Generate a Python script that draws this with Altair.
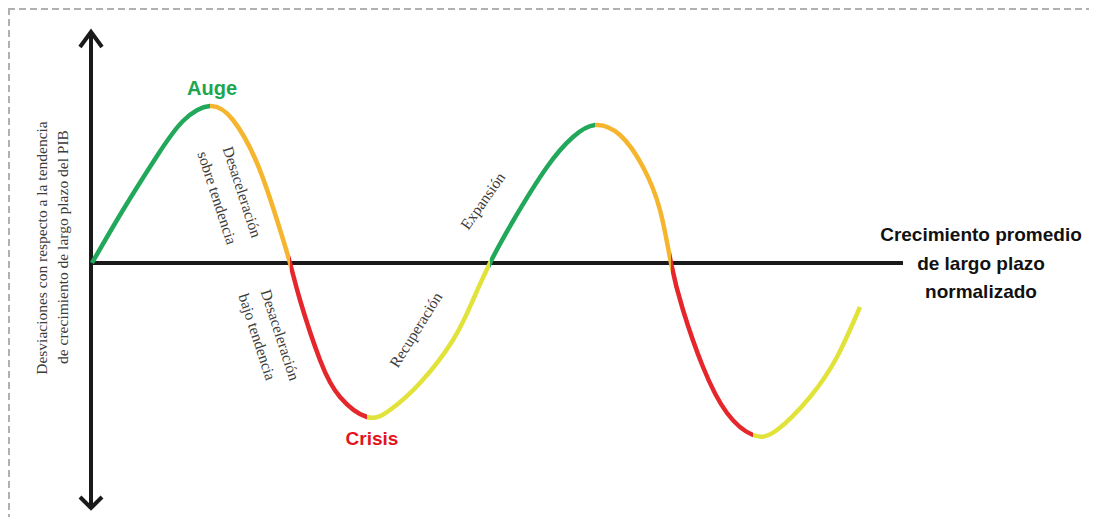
import altair as alt
import pandas as pd

# ---------------- data ----------------
# business-cycle curve: horizontal position and deviation from trend
curve_x = [92, 123, 157, 183, 210, 233, 257, 277, 290, 300, 320, 340, 367,
           390, 420, 453, 473, 490, 513, 547, 573, 595, 620, 643, 660, 671,
           683, 703, 727, 753, 777, 810, 837, 860]
curve_y = [0, 53, 107, 142, 157, 143, 100, 43, 0, -37, -97, -134, -154,
           -147, -120, -77, -37, 0, 42, 96, 126, 138, 128, 96, 53, 0,
           -47, -104, -150, -172, -167, -134, -94, -44]

# phase boundaries (peaks, trend crossings, troughs) and phase colours
phase_bounds = [92, 210, 290, 367, 490, 595, 671, 753, 860]
phase_colors = ["#21A85A", "#F5B52E", "#E5262B", "#E2E33A",
                "#21A85A", "#F5B52E", "#E5262B", "#E2E33A"]

# axes (shafts) and arrow heads
axis_x1 = [91, 91]
axis_y1 = [231, 0]
axis_x2 = [91, 903]
axis_y2 = [-245, 0]

head_id = ["top", "top", "top", "bottom", "bottom", "bottom"]
head_x = [80, 91, 102, 80, 91, 102]
head_y = [216, 231, 216, -234, -245, -234]

# phase annotations
phase_text = ["Desaceleración", "sobre tendencia", "Desaceleración",
              "bajo tendencia", "Recuperación", "Expansión",
              "Desviaciones con respecto a la tendencia",
              "de crecimiento de largo plazo del PIB"]
phase_tx = [242, 217, 280, 257, 416, 483, 42, 63]
phase_ty = [71, 65, -72, -74, -67, 62, 15, 16]
phase_angle = [72, 72, 72, 72, 302, 305, 270, 270]

key_text = ["Auge", "Crisis"]
key_tx = [212, 372]
key_ty = [174, -176]
key_color = ["#1BA64F", "#E3141C"]
key_size = [20, 19]

trend_text = ["Crecimiento promedio", "de largo plazo", "normalizado"]
trend_tx = [981, 981, 981]
trend_ty = [28, -1, -29]

# ---------------- tables ----------------
curve = pd.DataFrame({"x": curve_x, "y": curve_y})
axes_df = pd.DataFrame({"x": axis_x1, "y": axis_y1, "x2": axis_x2, "y2": axis_y2})
heads = pd.DataFrame({"id": head_id, "x": head_x, "y": head_y})
phases = pd.DataFrame({"t": phase_text, "x": phase_tx, "y": phase_ty, "a": phase_angle})
keys = pd.DataFrame({"t": key_text, "x": key_tx, "y": key_ty, "c": key_color, "s": key_size})
trend = pd.DataFrame({"t": trend_text, "x": trend_tx, "y": trend_ty})

xs = alt.Scale(domain=[8, 1089], nice=False, zero=False)
ys = alt.Scale(domain=[-254, 255], nice=False, zero=False)
X = lambda f="x": alt.X(f"{f}:Q", scale=xs, axis=None)
Y = lambda f="y": alt.Y(f"{f}:Q", scale=ys, axis=None)

# gradient stops so the single smooth curve is coloured by phase
lo, hi = phase_bounds[0], phase_bounds[-1]
stops = []
for i, col in enumerate(phase_colors):
    a = (phase_bounds[i] - lo) / (hi - lo)
    b = (phase_bounds[i + 1] - lo) / (hi - lo)
    stops.append(alt.GradientStop(offset=a, color=col))
    stops.append(alt.GradientStop(offset=b, color=col))
grad = alt.LinearGradient(gradient="linear", stops=stops, x1=0, x2=1, y1=0, y2=0)

line = alt.Chart(curve).mark_line(
    stroke=grad, strokeWidth=4.5, interpolate="natural"
).encode(x=X(), y=Y(), order="x:Q")

shafts = alt.Chart(axes_df).mark_rule(color="#1a1a1a", strokeWidth=4).encode(
    x=X(), y=Y(), x2="x2:Q", y2="y2:Q")

arrow = alt.Chart(heads).mark_line(
    color="#1a1a1a", strokeWidth=4, strokeJoin="miter", strokeCap="butt"
).encode(x=X(), y=Y(), detail="id:N", order="x:Q")

phase_lbl = alt.Chart(phases).mark_text(
    font="Liberation Serif", fontSize=15.5, color="#3c3c3c",
    align="center", baseline="middle"
).encode(x=X(), y=Y(), text="t:N", angle=alt.Angle("a:Q", scale=None))

key_lbl = alt.Chart(keys).mark_text(
    font="Liberation Sans", fontWeight="bold", align="center", baseline="middle"
).encode(x=X(), y=Y(), text="t:N", color=alt.Color("c:N", scale=None),
         size=alt.Size("s:Q", scale=None))

trend_lbl = alt.Chart(trend).mark_text(
    font="Liberation Sans", fontWeight="bold", fontSize=19, color="#111111",
    align="center", baseline="middle"
).encode(x=X(), y=Y(), text="t:N")

border_top = alt.Chart(curve).mark_rule(
    color="#b0b0b0", strokeWidth=1.5, strokeDash=[7, 4]
).encode(x=alt.value(0), x2=alt.value(1081), y=alt.value(0.75))
border_left = alt.Chart(curve).mark_rule(
    color="#b0b0b0", strokeWidth=1.5, strokeDash=[7, 4]
).encode(x=alt.value(0.75), y=alt.value(0), y2=alt.value(509))

chart = alt.layer(
    border_top, border_left, shafts, arrow, line, phase_lbl, key_lbl, trend_lbl
).properties(
    width=1081, height=509, padding=0,
    autosize=alt.AutoSizeParams(type="none"),
    background="white"
).configure_view(stroke=None)

chart.save("out.html", embed_options={"renderer": "svg", "actions": False})
